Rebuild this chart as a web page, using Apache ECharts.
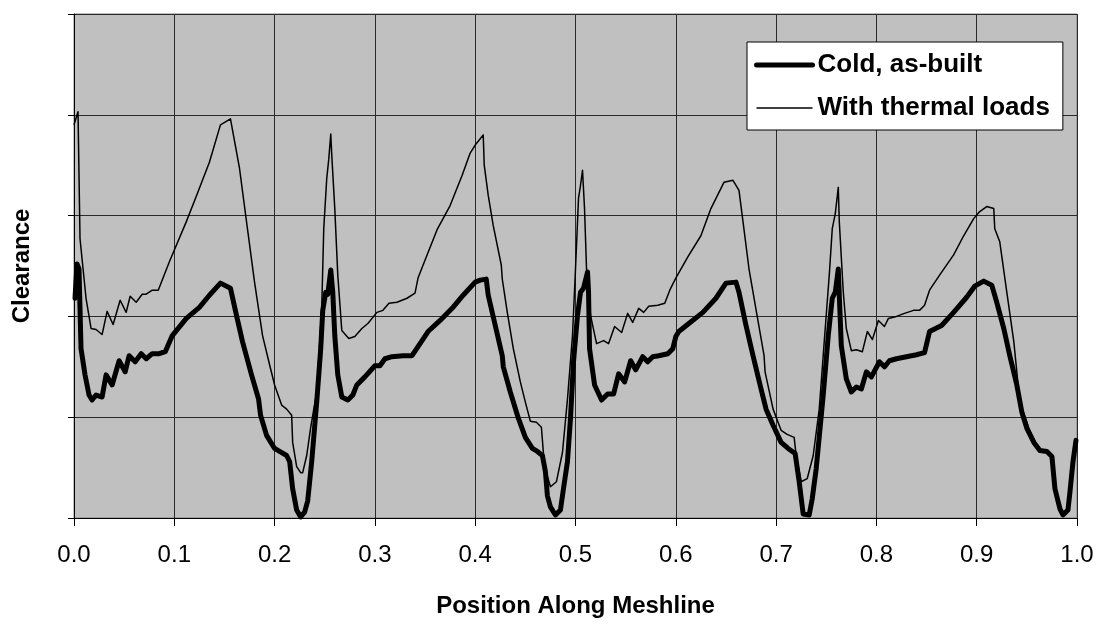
<!DOCTYPE html>
<html>
<head>
<meta charset="utf-8">
<script src="https://cdn.jsdelivr.net/npm/echarts@6/dist/echarts.min.js"></script>
<style>
  html, body { margin: 0; padding: 0; background: #fff; }
  #chart { width: 1098px; height: 632px; }
</style>
</head>
<body>
<div id="chart"></div>
<script>
// position along meshline (x) and clearance (in grid units, 0..5)
const coldX = [0.001, 0.003, 0.005, 0.007, 0.011, 0.015, 0.018, 0.022, 0.028, 0.032, 0.038, 0.045, 0.051, 0.055, 0.061, 0.067, 0.072, 0.078, 0.085, 0.091, 0.098, 0.112, 0.125, 0.135, 0.146, 0.156, 0.162, 0.168, 0.177, 0.184, 0.186, 0.192, 0.200, 0.205, 0.212, 0.215, 0.218, 0.222, 0.226, 0.230, 0.233, 0.237, 0.242, 0.246, 0.248, 0.251, 0.253, 0.256, 0.258, 0.260, 0.263, 0.267, 0.273, 0.278, 0.282, 0.290, 0.300, 0.305, 0.310, 0.317, 0.328, 0.337, 0.343, 0.353, 0.365, 0.377, 0.388, 0.400, 0.405, 0.411, 0.413, 0.420, 0.427, 0.428, 0.435, 0.443, 0.450, 0.457, 0.462, 0.467, 0.470, 0.472, 0.475, 0.480, 0.485, 0.488, 0.492, 0.495, 0.498, 0.502, 0.505, 0.508, 0.512, 0.513, 0.514, 0.519, 0.526, 0.532, 0.538, 0.543, 0.549, 0.555, 0.560, 0.567, 0.572, 0.577, 0.583, 0.592, 0.597, 0.600, 0.603, 0.613, 0.627, 0.640, 0.650, 0.660, 0.663, 0.670, 0.677, 0.685, 0.690, 0.697, 0.705, 0.712, 0.719, 0.723, 0.727, 0.733, 0.736, 0.740, 0.747, 0.752, 0.756, 0.759, 0.762, 0.763, 0.765, 0.770, 0.775, 0.780, 0.785, 0.790, 0.795, 0.803, 0.808, 0.813, 0.820, 0.830, 0.840, 0.848, 0.853, 0.865, 0.877, 0.890, 0.898, 0.907, 0.915, 0.920, 0.927, 0.933, 0.940, 0.945, 0.950, 0.957, 0.963, 0.970, 0.975, 0.978, 0.983, 0.986, 0.991, 0.993, 0.996, 0.999]
const coldY = [2.18, 2.52, 2.47, 1.68, 1.42, 1.22, 1.17, 1.22, 1.20, 1.42, 1.32, 1.56, 1.45, 1.61, 1.55, 1.63, 1.58, 1.63, 1.63, 1.65, 1.81, 1.98, 2.09, 2.21, 2.33, 2.28, 2.01, 1.75, 1.42, 1.18, 1.02, 0.82, 0.69, 0.66, 0.62, 0.56, 0.29, 0.08, 0.01, 0.06, 0.17, 0.56, 1.15, 1.68, 2.06, 2.24, 2.22, 2.46, 2.24, 1.81, 1.42, 1.20, 1.17, 1.22, 1.32, 1.40, 1.51, 1.51, 1.58, 1.60, 1.61, 1.61, 1.70, 1.85, 1.96, 2.08, 2.21, 2.34, 2.36, 2.37, 2.21, 1.91, 1.61, 1.50, 1.25, 0.99, 0.80, 0.69, 0.66, 0.62, 0.46, 0.22, 0.11, 0.03, 0.08, 0.29, 0.56, 0.99, 1.55, 2.01, 2.24, 2.28, 2.44, 2.24, 1.68, 1.32, 1.17, 1.23, 1.23, 1.43, 1.35, 1.56, 1.47, 1.60, 1.55, 1.60, 1.61, 1.63, 1.68, 1.80, 1.85, 1.93, 2.04, 2.18, 2.33, 2.34, 2.24, 1.91, 1.61, 1.28, 1.08, 0.92, 0.75, 0.69, 0.64, 0.36, 0.04, 0.03, 0.19, 0.49, 1.22, 1.81, 2.18, 2.24, 2.47, 2.21, 1.71, 1.38, 1.25, 1.30, 1.28, 1.45, 1.40, 1.55, 1.50, 1.56, 1.58, 1.60, 1.62, 1.64, 1.85, 1.91, 2.04, 2.19, 2.30, 2.35, 2.31, 2.14, 1.88, 1.61, 1.32, 1.05, 0.89, 0.75, 0.67, 0.66, 0.61, 0.29, 0.09, 0.03, 0.08, 0.26, 0.56, 0.77]

const thermalX = [0.000, 0.004, 0.006, 0.012, 0.017, 0.022, 0.028, 0.033, 0.039, 0.046, 0.052, 0.056, 0.062, 0.068, 0.072, 0.078, 0.084, 0.095, 0.112, 0.123, 0.135, 0.146, 0.156, 0.165, 0.172, 0.180, 0.188, 0.195, 0.200, 0.207, 0.212, 0.217, 0.218, 0.222, 0.226, 0.228, 0.232, 0.236, 0.242, 0.247, 0.249, 0.252, 0.254, 0.256, 0.257, 0.260, 0.263, 0.267, 0.274, 0.280, 0.287, 0.293, 0.302, 0.308, 0.314, 0.322, 0.332, 0.340, 0.343, 0.352, 0.362, 0.375, 0.387, 0.395, 0.400, 0.408, 0.409, 0.413, 0.418, 0.426, 0.427, 0.432, 0.438, 0.445, 0.450, 0.455, 0.461, 0.466, 0.469, 0.475, 0.481, 0.487, 0.492, 0.497, 0.500, 0.503, 0.505, 0.507, 0.509, 0.511, 0.515, 0.521, 0.528, 0.533, 0.539, 0.546, 0.552, 0.557, 0.563, 0.568, 0.573, 0.582, 0.589, 0.594, 0.600, 0.612, 0.625, 0.635, 0.648, 0.657, 0.663, 0.667, 0.673, 0.681, 0.688, 0.689, 0.697, 0.705, 0.711, 0.718, 0.720, 0.725, 0.731, 0.737, 0.743, 0.748, 0.753, 0.756, 0.759, 0.762, 0.763, 0.767, 0.770, 0.775, 0.780, 0.786, 0.791, 0.796, 0.802, 0.808, 0.812, 0.820, 0.828, 0.837, 0.843, 0.848, 0.853, 0.863, 0.877, 0.887, 0.897, 0.903, 0.910, 0.917, 0.918, 0.923, 0.930, 0.937, 0.943, 0.952, 0.958]
const thermalY = [3.90, 4.03, 2.77, 2.18, 1.88, 1.87, 1.82, 2.05, 1.92, 2.16, 2.04, 2.20, 2.14, 2.22, 2.22, 2.26, 2.26, 2.54, 2.94, 3.22, 3.53, 3.90, 3.96, 3.47, 2.94, 2.34, 1.81, 1.52, 1.32, 1.12, 1.08, 1.02, 0.75, 0.51, 0.45, 0.45, 0.62, 0.90, 1.25, 2.08, 2.87, 3.37, 3.56, 3.81, 3.60, 3.07, 2.41, 1.86, 1.78, 1.80, 1.88, 1.93, 2.04, 2.06, 2.13, 2.14, 2.18, 2.23, 2.38, 2.61, 2.86, 3.10, 3.40, 3.62, 3.70, 3.80, 3.50, 3.20, 2.90, 2.51, 2.37, 2.04, 1.68, 1.35, 1.15, 0.96, 0.95, 0.90, 0.52, 0.31, 0.36, 0.65, 1.18, 1.81, 2.47, 3.17, 3.30, 3.45, 3.07, 2.47, 2.01, 1.73, 1.76, 1.73, 1.90, 1.84, 2.03, 1.94, 2.08, 2.04, 2.10, 2.11, 2.13, 2.26, 2.38, 2.59, 2.80, 3.07, 3.33, 3.35, 3.25, 2.94, 2.47, 2.01, 1.61, 1.45, 1.08, 0.87, 0.83, 0.80, 0.62, 0.36, 0.39, 0.62, 1.08, 1.75, 2.41, 2.87, 3.02, 3.28, 2.94, 2.24, 1.88, 1.66, 1.67, 1.65, 1.85, 1.77, 1.96, 1.90, 1.98, 2.00, 2.03, 2.06, 2.06, 2.11, 2.26, 2.41, 2.61, 2.80, 2.97, 3.04, 3.09, 3.07, 2.87, 2.74, 2.24, 1.75, 1.15, 0.89, 0.76]

const xTicks = ['0.0', '0.1', '0.2', '0.3', '0.4', '0.5', '0.6', '0.7', '0.8', '0.9', '1.0']

const zip = (xs, ys) => xs.map((x, i) => [x, ys[i]])

const chart = echarts.init(document.getElementById('chart'))
const font = 'Liberation Sans, Arial, sans-serif'

const option = {
  animation: false,
  textStyle: { fontFamily: font },
  grid: {
    left: 74, top: 14, right: 21, bottom: 114,
    outerBoundsMode: 'none',
    containLabel: false,
    show: true,
    backgroundColor: '#c0c0c0',
    borderColor: '#808080',
    borderWidth: 1
  },
  legend: {
    orient: 'vertical',
    left: 747, top: 42,
    padding: [10, 13, 9, 7],
    itemGap: 17,
    itemWidth: 56,
    itemHeight: 14,
    backgroundColor: '#fff',
    borderColor: '#000',
    borderWidth: 1,
    itemStyle: { opacity: 0 },
    textStyle: { fontFamily: font, fontSize: 26, fontWeight: 'bold', color: '#000' },
    data: [
      { name: 'Cold, as-built', lineStyle: { width: 5, color: '#000', cap: 'round' } },
      { name: 'With thermal loads', lineStyle: { width: 1.5, color: '#000' } }
    ]
  },
  xAxis: {
    type: 'value',
    min: 0, max: 1, interval: 0.1,
    name: 'Position Along Meshline',
    nameLocation: 'middle',
    nameGap: 76,
    nameTextStyle: { fontFamily: font, fontSize: 24, fontWeight: 'bold', color: '#000' },
    axisLine: { lineStyle: { color: '#000', width: 1 } },
    axisTick: { show: true, length: 8, lineStyle: { color: '#000' } },
    axisLabel: {
      fontSize: 24, color: '#000', margin: 25, fontFamily: font,
      formatter: v => xTicks[Math.round(v * 10)]
    },
    splitLine: { show: true, lineStyle: { color: '#2a2a2a', width: 1 } }
  },
  yAxis: {
    type: 'value',
    min: 0, max: 5, interval: 1,
    name: 'Clearance',
    nameLocation: 'middle',
    nameRotate: 90,
    nameGap: 40,
    nameTextStyle: { fontFamily: font, fontSize: 24, fontWeight: 'bold', color: '#000' },
    axisLine: { show: true, lineStyle: { color: '#000', width: 1 } },
    axisTick: { show: true, length: 6, lineStyle: { color: '#000' } },
    axisLabel: { show: false },
    splitLine: { show: true, lineStyle: { color: '#2a2a2a', width: 1 } }
  },
  series: [
    {
      name: 'Cold, as-built',
      type: 'line',
      showSymbol: false,
      symbol: 'none',
      lineStyle: { color: '#000', width: 5, cap: 'round', join: 'round' },
      itemStyle: { color: '#000' },
      data: zip(coldX, coldY)
    },
    {
      name: 'With thermal loads',
      type: 'line',
      showSymbol: false,
      symbol: 'none',
      lineStyle: { color: '#000', width: 1.5, join: 'round' },
      itemStyle: { color: '#000' },
      data: zip(thermalX, thermalY)
    }
  ]
}

chart.setOption(option)
</script>
</body>
</html>
